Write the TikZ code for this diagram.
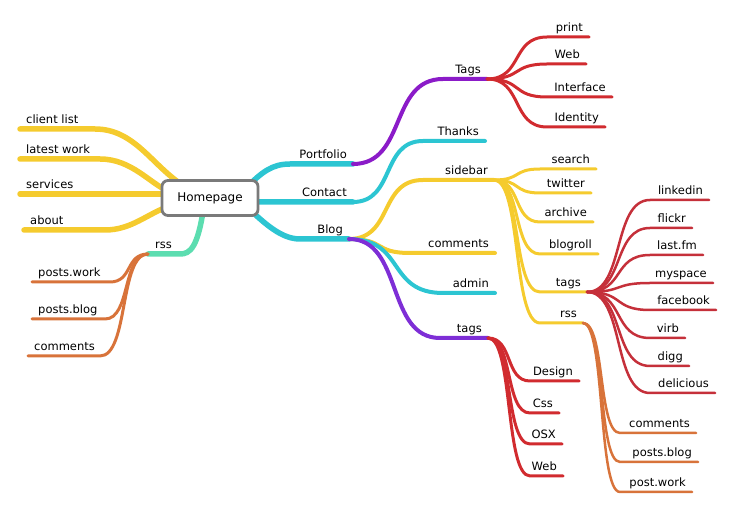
\documentclass[tikz,border=0pt]{standalone}
\usepackage{fontspec}
\setmainfont{DejaVu Sans}
\usetikzlibrary{calc}
\definecolor{cyanL}{HTML}{2CC5D2}
\definecolor{yellowL}{HTML}{F5CB2E}
\definecolor{purpleL}{HTML}{8B1BC8}
\definecolor{purpleM}{HTML}{7E2ED6}
\definecolor{redL}{HTML}{D12B2F}
\definecolor{redD}{HTML}{C5303A}
\definecolor{orangeL}{HTML}{D8733A}
\definecolor{mintL}{HTML}{5CDDB0}
\definecolor{boxgray}{HTML}{7A7A7A}
\tikzset{
  lbl/.style={font=\fontsize{11.5}{13}\selectfont, inner sep=0pt, text=black},
  lvA/.style={line width=5.5pt, line cap=round},
  lvB/.style={line width=4pt, line cap=round},
  lvC/.style={line width=3pt, line cap=round},
  lvD/.style={line width=2.5pt, line cap=round},
  homebox/.style={draw=boxgray, line width=2.8pt, rounded corners=6pt, fill=white,
     minimum width=96pt, minimum height=35pt, font=\fontsize{12}{14}\selectfont}
}
% right topic: name, x-start, x-end, y, text
\newcommand\rtopic[5]{%
  \coordinate (#1-a) at (#2,#4);
  \coordinate (#1-b) at (#3,#4);
  \node[lbl, anchor=base east] (#1) at (#3-6,#4-5) {#5};
}
% left topic: name, x-outer(left), x-inner(right), y, text
\newcommand\ltopic[5]{%
  \coordinate (#1-a) at (#3,#4);
  \coordinate (#1-b) at (#2,#4);
  \node[lbl, anchor=base west] (#1) at (#2+6,#4-5) {#5};
}
% link: style, parent coordinate, child name
\newcommand\mmlink[3]{%
  \draw[#1] let \p1=(#2), \p2=(#3-a) in
    (\p1) .. controls ({\x1+0.6*(\x2-\x1)},\y1) and ({\x2-0.6*(\x2-\x1)},\y2) .. (\p2) -- (#3-b);
}
\begin{document}
\begin{tikzpicture}[x=1pt,y=-1pt]
\useasboundingbox (0,0) rectangle (737,510);

% ---------- topics ----------
\ltopic{clientlist}{20}{95}{129}{client list}
\ltopic{latestwork}{20}{100}{159}{latest work}
\ltopic{services}{20}{110}{194}{services}
\ltopic{about}{24}{105}{230}{about}
\ltopic{rssL}{148}{180}{254}{}
\node[lbl, anchor=base west] (rssLt) at (155,249) {rss};
\ltopic{postsworkL}{32}{110}{282}{posts.work}
\ltopic{postsblogL}{32}{105}{319}{posts.blog}
\ltopic{commentsL}{28}{100}{356}{comments}

\rtopic{portfolio}{290}{353}{164}{Portfolio}
\rtopic{contact}{262}{353}{202}{Contact}
\rtopic{blog}{300}{349}{239}{Blog}

\rtopic{tagsP}{443}{487}{79}{Tags}
\rtopic{print}{547}{589}{37}{print}
\rtopic{webP}{547}{586}{64}{Web}
\rtopic{interface}{547}{612}{97}{Interface}
\rtopic{identity}{547}{605}{127}{Identity}

\rtopic{thanks}{423}{485}{141}{Thanks}

\rtopic{sidebar}{423}{494}{180}{sidebar}
\rtopic{search}{540}{596}{169}{search}
\rtopic{twitter}{540}{591}{193}{twitter}
\rtopic{archive}{540}{593}{222}{archive}
\rtopic{blogroll}{540}{598}{254}{blogroll}
\rtopic{tagsS}{540}{587}{292}{tags}
\rtopic{rssS}{540}{583}{323}{rss}

\rtopic{linkedin}{650}{709}{200}{linkedin}
\rtopic{flickr}{650}{692}{228}{flickr}
\rtopic{lastfm}{650}{703}{255}{last.fm}
\rtopic{myspace}{650}{713}{283}{myspace}
\rtopic{facebook}{650}{716}{310}{facebook}
\rtopic{virb}{650}{685}{338}{virb}
\rtopic{digg}{650}{689}{366}{digg}
\rtopic{delicious}{650}{715}{393}{delicious}

\rtopic{commentsS}{620}{696}{433}{comments}
\rtopic{postsblogS}{620}{698}{462}{posts.blog}
\rtopic{postworkS}{620}{692}{492}{post.work}

\rtopic{commentsB}{410}{495}{253}{comments}
\rtopic{admin}{443}{495}{293}{admin}
\rtopic{tagsB}{440}{488}{338}{tags}

\rtopic{design}{530}{579}{381}{Design}
\rtopic{css}{530}{559}{413}{Css}
\rtopic{osx}{530}{562}{444}{OSX}
\rtopic{webB}{530}{563}{476}{Web}

% ---------- links from Homepage ----------
\coordinate (hl1) at (184,186);
\coordinate (hl2) at (170,192);
\coordinate (hl3) at (172,194);
\coordinate (hl4) at (170,206);
\coordinate (hr1) at (246,188);
\coordinate (hr2) at (250,201);
\coordinate (hr3) at (246,206);
\coordinate (hb) at (204,205);
\draw[lvA, yellowL] (clientlist-b) -- (clientlist-a) .. controls (135,129) and (152,166) .. (hl1);
\draw[lvA, yellowL] (latestwork-b) -- (latestwork-a) .. controls (132,159) and (150,184) .. (hl2);
\draw[lvA, yellowL] (services-b) -- (services-a) -- (hl3);
\draw[lvA, yellowL] (about-b) -- (about-a) .. controls (132,230) and (148,213) .. (hl4);
\draw[lvA, cyanL] (hr1) .. controls (262,172) and (272,164) .. (portfolio-a) -- (portfolio-b);
\draw[lvA, cyanL] (hr2) -- (contact-a) -- (contact-b);
\draw[lvA, cyanL] (hr3) .. controls (266,225) and (282,239) .. (blog-a) -- (blog-b);
\draw[lvA, mintL] (hb) .. controls (198,248) and (190,254) .. (rssL-a) -- (rssL-b);

% ---------- second level ----------
\mmlink{lvC, orangeL}{rssL-b}{postsworkL}
\mmlink{lvC, orangeL}{rssL-b}{postsblogL}
\mmlink{lvC, orangeL}{rssL-b}{commentsL}

\mmlink{lvB, purpleL}{portfolio-b}{tagsP}
\mmlink{lvB, cyanL}{contact-b}{thanks}
\mmlink{lvB, yellowL}{blog-b}{sidebar}
\mmlink{lvB, yellowL}{blog-b}{commentsB}
\mmlink{lvB, cyanL}{blog-b}{admin}
\mmlink{lvB, purpleM}{blog-b}{tagsB}

% ---------- third level ----------
\mmlink{lvC, redL}{tagsP-b}{print}
\mmlink{lvC, redL}{tagsP-b}{webP}
\mmlink{lvC, redL}{tagsP-b}{interface}
\mmlink{lvC, redL}{tagsP-b}{identity}

\mmlink{lvC, yellowL}{sidebar-b}{search}
\mmlink{lvC, yellowL}{sidebar-b}{twitter}
\mmlink{lvC, yellowL}{sidebar-b}{archive}
\mmlink{lvC, yellowL}{sidebar-b}{blogroll}
\mmlink{lvC, yellowL}{sidebar-b}{tagsS}
\mmlink{lvC, yellowL}{sidebar-b}{rssS}

\mmlink{lvC, redL}{tagsB-b}{design}
\mmlink{lvC, redL}{tagsB-b}{css}
\mmlink{lvC, redL}{tagsB-b}{osx}
\mmlink{lvC, redL}{tagsB-b}{webB}

% ---------- fourth level ----------
\mmlink{lvD, redD}{tagsS-b}{linkedin}
\mmlink{lvD, redD}{tagsS-b}{flickr}
\mmlink{lvD, redD}{tagsS-b}{lastfm}
\mmlink{lvD, redD}{tagsS-b}{myspace}
\mmlink{lvD, redD}{tagsS-b}{facebook}
\mmlink{lvD, redD}{tagsS-b}{virb}
\mmlink{lvD, redD}{tagsS-b}{digg}
\mmlink{lvD, redD}{tagsS-b}{delicious}

\mmlink{lvD, orangeL}{rssS-b}{commentsS}
\mmlink{lvD, orangeL}{rssS-b}{postsblogS}
\mmlink{lvD, orangeL}{rssS-b}{postworkS}

% ---------- Homepage box ----------
\node[homebox] (home) at (210,198) {Homepage};
\end{tikzpicture}
\end{document}
